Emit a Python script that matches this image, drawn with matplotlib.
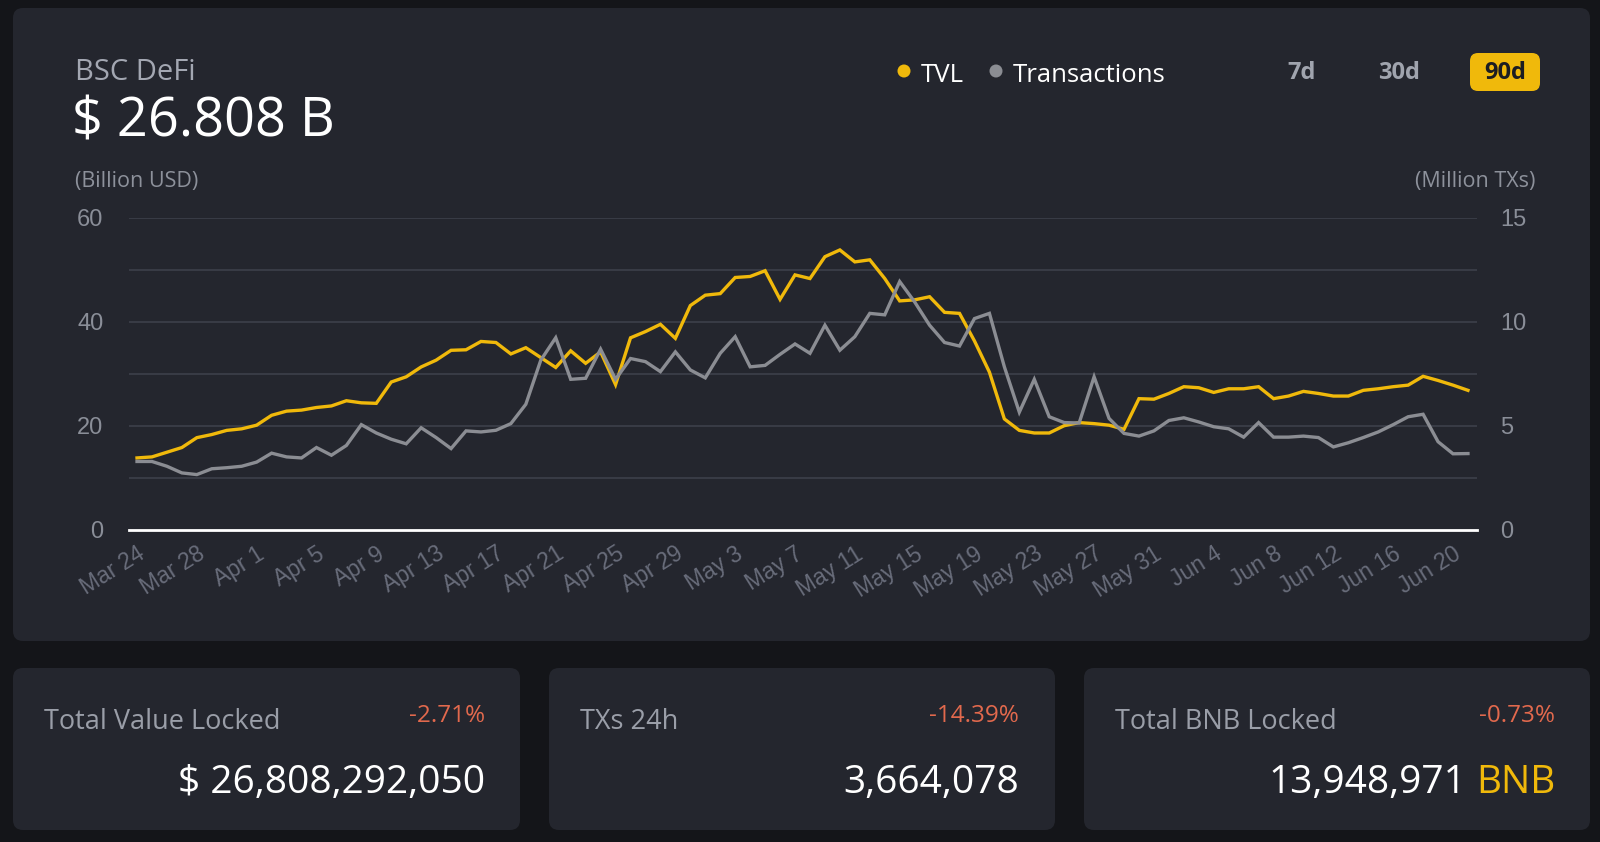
import numpy as np
import pandas as pd
import matplotlib
matplotlib.use("Agg")
import matplotlib.pyplot as plt
from matplotlib.patches import FancyBboxPatch, Circle

# text:
plt.rcParams['font.family'] = ['Open Sans', 'DejaVu Sans']

# 90 daily points, Mar 24 .. Jun 21
dates = pd.date_range("2021-03-24", periods=90, freq="D")

# TVL in billion USD
tvl = [13.8, 14.0, 14.9, 15.8, 17.7, 18.3, 19.1, 19.4, 20.1, 22.0, 22.8, 23.0,
       23.5, 23.8, 24.8, 24.4, 24.3, 28.4, 29.4, 31.3, 32.6, 34.5, 34.6,
       36.2, 36.0, 33.8, 35.0, 33.1, 31.2, 34.4, 32.0, 34.2, 27.9, 36.9, 38.1,
       39.5, 36.8, 43.1, 45.1, 45.4, 48.5, 48.7, 49.8, 44.3, 49.0, 48.3,
       52.5, 53.8, 51.5, 51.9, 48.3, 44.0, 44.2, 44.8, 41.8, 41.6, 36.3, 30.3,
       21.3, 19.1, 18.6, 18.6, 20.0, 20.6, 20.4, 20.1, 19.3, 25.2, 25.1,
       26.2, 27.5, 27.3, 26.4, 27.1, 27.1, 27.5, 25.2, 25.7, 26.6, 26.2, 25.7,
       25.7, 26.8, 27.1, 27.5, 27.8, 29.5, 28.7, 27.8, 26.8]

# transactions in million TXs
txs = [3.28, 3.28, 3.05, 2.73, 2.65, 2.93, 2.98, 3.05, 3.25, 3.68, 3.50, 3.45,
       3.95, 3.58, 4.05, 5.05, 4.65, 4.35, 4.13, 4.90, 4.43, 3.90, 4.75,
       4.70, 4.78, 5.10, 6.03, 8.15, 9.23, 7.23, 7.28, 8.68, 7.23, 8.23, 8.08,
       7.60, 8.55, 7.68, 7.30, 8.48, 9.28, 7.83, 7.90, 8.43, 8.93, 8.48,
       9.83, 8.63, 9.28, 10.40, 10.33, 11.93, 10.95, 9.83, 9.00, 8.83, 10.15,
       10.40, 7.83, 5.65, 7.23, 5.43, 5.15, 5.13, 7.35, 5.35, 4.63, 4.50, 4.75,
       5.25, 5.38, 5.18, 4.95, 4.85, 4.45, 5.15, 4.45, 4.45, 4.50, 4.43, 3.98,
       4.18, 4.43, 4.70, 5.05, 5.43, 5.55, 4.23, 3.65, 3.66]

tick_dates = dates[::4]
tick_labels = [f"{d:%b} {d.day}" for d in tick_dates]
left_ticks = [0, 20, 40, 60]
right_ticks = [0, 5, 10, 15]

card_titles = ["Total Value Locked", "TXs 24h", "Total BNB Locked"]
card_changes = ["-2.71%", "-14.39%", "-0.73%"]
card_values = ["$ 26,808,292,050", "3,664,078", "13,948,971"]

BG = "#141519"
CARD = "#24262e"
GRID = "#393c46"
YELLOW = "#f0b90b"
GREY = "#8b8d93"

W, H = 1600, 842
fig = plt.figure(figsize=(16, 8.42), dpi=100)
fig.patch.set_facecolor(BG)

# pixel-space background axes for cards and texts
bg = fig.add_axes([0, 0, 1, 1], zorder=0)
bg.set_xlim(0, W)
bg.set_ylim(H, 0)
bg.axis("off")

def card(x, y, w, h):
    bg.add_patch(FancyBboxPatch((x, y), w, h, boxstyle="round,pad=0,rounding_size=10",
                                fc=CARD, ec="none"))

card(13, 8, 1577, 633)
card(13, 668, 507, 162)
card(549, 668, 506, 162)
card(1084, 668, 506, 162)

# header
bg.text(75, 73, "BSC DeFi", color="#a3a7b2", fontsize=21, va="center")
bg.text(72, 122, "$ 26.808 B", color="white", fontsize=39, va="center")
bg.text(75, 182, "(Billion USD)", color="#8d919b", fontsize=15.5, va="center")
bg.text(1535, 182, "(Million TXs)", color="#8d919b", fontsize=15.5, va="center", ha="right")

# legend
bg.add_patch(Circle((904, 71), 6.5, fc=YELLOW, ec="none"))
bg.text(921, 75, "TVL", color="white", fontsize=18.5, va="center")
bg.add_patch(Circle((996, 71), 6.5, fc=GREY, ec="none"))
bg.text(1013, 75, "Transactions", color="white", fontsize=18.5, va="center")

# range buttons
bg.text(1302, 73, "7d", color="#a0a4ae", fontsize=17, va="center", ha="center", fontweight="bold")
bg.text(1399, 73, "30d", color="#a0a4ae", fontsize=17, va="center", ha="center", fontweight="bold")
bg.add_patch(FancyBboxPatch((1470, 53), 70, 38, boxstyle="round,pad=0,rounding_size=8",
                            fc=YELLOW, ec="none"))
bg.text(1505, 73, "90d", color="#1c1d22", fontsize=17, va="center", ha="center", fontweight="bold")

# bottom cards
title_x = [44, 580, 1115]
right_x = [485, 1019, 1555]
for i in range(3):
    bg.text(title_x[i], 722, card_titles[i], color="#9a9ea8", fontsize=19.5, va="center")
    bg.text(right_x[i], 716, card_changes[i], color="#e2694d", fontsize=17.5, va="center", ha="right")
for i in range(2):
    bg.text(right_x[i], 783, card_values[i], color="white", fontsize=28, va="center", ha="right")
bnb = bg.text(right_x[2], 783, "BNB", color=YELLOW, fontsize=28, va="center", ha="right")
bg.annotate(card_values[2], xy=(0, 0.5), xycoords=bnb, xytext=(-7, 0),
            textcoords="offset points", color="white", fontsize=28, va="center", ha="right")

# chart
x0, x1, y0, y1 = 128.6, 1476.5, 217.7, 529.7
ax = fig.add_axes([x0 / W, 1 - y1 / H, (x1 - x0) / W, (y1 - y0) / H], zorder=1)
ax.set_facecolor("none")
ax.plot(dates, tvl, color=YELLOW, lw=2.4, solid_joinstyle="miter", zorder=2)
ax.set_xlim(dates[0] - pd.Timedelta(hours=13.5), dates[-1] + pd.Timedelta(hours=13.7))
ax.set_ylim(0, 60)
ax.set_yticks(left_ticks)
ax.set_yticks([10, 30, 50], minor=True)
ax.grid(which="both", axis="y", color=GRID, lw=1.4)
ax.axhline(0, color="white", lw=2, zorder=3, clip_on=False)
ax.set_xticks(tick_dates)
ax.set_xticklabels(tick_labels, rotation=32, ha="right", rotation_mode="anchor",
                   fontfamily="Liberation Sans")
ax.tick_params(axis="x", length=0, pad=9, colors="#686c7a", labelsize=16.5)
ax.tick_params(axis="y", which="both", length=0, pad=18, colors="#8a8e98", labelsize=17)
for lab in ax.get_yticklabels():
    lab.set_fontfamily("Liberation Sans")
for s in ax.spines.values():
    s.set_visible(False)

ax2 = ax.twinx()
ax2.plot(dates, txs, color=GREY, lw=2.4, solid_joinstyle="miter")
ax2.set_ylim(0, 15)
ax2.set_yticks(right_ticks)
ax2.tick_params(axis="y", length=0, pad=17, colors="#8a8e98", labelsize=17)
for lab in ax2.get_yticklabels():
    lab.set_fontfamily("Liberation Sans")
for s in ax2.spines.values():
    s.set_visible(False)

fig.savefig("out.png", dpi=100, facecolor=BG)
